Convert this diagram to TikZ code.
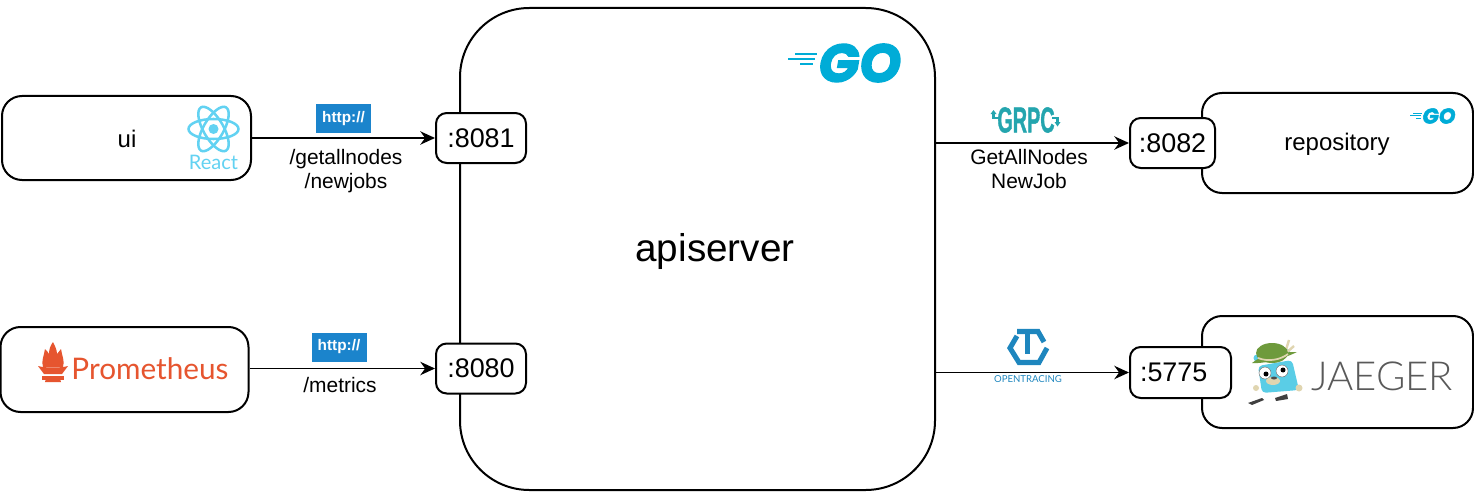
\documentclass[tikz,border=0pt]{standalone}
\usepackage{fontspec}
\setmainfont{Liberation Sans}
\newfontfamily\logofont{Lato Light}
\newfontfamily\logoregular{Lato}
\newfontfamily\gofont[BoldItalicFeatures={FakeBold=2.5}]{Poppins}
\newfontfamily\grpcfont[BoldFeatures={FakeBold=1.5}]{Liberation Sans}
\usetikzlibrary{arrows.meta}

\definecolor{httpblue}{HTML}{1B84CC}
\definecolor{reactblue}{HTML}{62D2F2}
\definecolor{goblue}{HTML}{00ACD7}
\definecolor{grpcteal}{HTML}{24A5AE}
\definecolor{promred}{HTML}{E6552F}
\definecolor{tracingblue}{HTML}{1E86BE}
\definecolor{gopherblue}{HTML}{5ACDE6}
\definecolor{hatgreen}{HTML}{6E9A3C}
\definecolor{hattan}{HTML}{E0D5B0}

\def\px{.75pt}
\tikzset{
    svcbox/.style={draw, line width=1.5pt, rounded corners=15pt, fill=white, inner sep=0pt},
    portbox/.style={draw, line width=1.5pt, rounded corners=8pt, fill=white, inner sep=0pt, font=\fontsize{20.2}{21}\selectfont},
    lbl/.style={inner sep=0pt, align=center, font=\fontsize{15.7}{17.8}\selectfont},
    httpbadge/.style={fill=httpblue, text=white, inner sep=0pt, minimum width=55*\px, minimum height=29*\px, font=\fontsize{11.5}{12}\selectfont\bfseries},
    link/.style={-{Stealth[length=11pt,width=10pt]}, line width=1.4pt},
}

\begin{document}
\begin{tikzpicture}[x=.75pt, y=-.75pt]
    \useasboundingbox (0,0) rectangle (1474,492);

    \node[svcbox, rounded corners=52pt, minimum width=475*\px, minimum height=482*\px] (api) at (697.5,249) {};
    \node[inner sep=0pt, font=\fontsize{29}{32}\selectfont] (apilabel) at (715,252) {apiserver};

    \node[svcbox, minimum width=249*\px, minimum height=84*\px] (ui) at (126.5,138) {};
    \node[lbl, font=\fontsize{18}{20}\selectfont] (uilabel) at (127,139) {ui};
    \node[svcbox, minimum width=248*\px, minimum height=85*\px] (prom) at (124.5,369.5) {};
    \node[svcbox, minimum width=271*\px, minimum height=100*\px] (repo) at (1337.5,143) {};
    \node[lbl, font=\fontsize{18}{20}\selectfont] (repolabel) at (1337,144) {repository};
    \node[svcbox, minimum width=271*\px, minimum height=112*\px] (jaeger) at (1337.5,372) {};

    \node[portbox, minimum width=90*\px, minimum height=50*\px] (p8081) at (481,138) {:8081};
    \node[portbox, minimum width=90*\px, minimum height=50*\px] (p8080) at (481,368.5) {:8080};
    \node[portbox, minimum width=85*\px, minimum height=50*\px] (p8082) at (1172.5,143) {:8082};
    \node[portbox, minimum width=101*\px, text width=81*\px, align=left, minimum height=51*\px] (p5775) at (1180.5,372.5) {:5775};

    %Connectors
    \draw[link] (ui.east |- p8081.west) -- (p8081.west);
    \draw[link] (prom.east |- p8080.west) -- (p8080.west);
    \draw[link] (api.east |- p8082.west) -- (p8082.west);
    \draw[link] (api.east |- p5775.west) -- (p5775.west);

    \node[httpbadge] (http1) at (343.5,118.5) {http://};
    \node[httpbadge] (http2) at (339,347) {http://};
    \node[lbl] (ui1) at (346,171) {/getallnodes\\/newjobs};
    \node[lbl] (prom1) at (340,385) {/metrics};
    \node[lbl] (repo1) at (1029,169) {GetAllNodes\\NewJob};

    %React
    \foreach \ang in {0,60,120}
        \draw[reactblue, line width=1.9pt] (213.5,129) ellipse[x radius=25, y radius=10, rotate=\ang];
    \fill[reactblue] (213.5,129) circle[radius=5];
    \node[text=reactblue, inner sep=0pt, font=\logoregular\fontsize{15}{16}\selectfont] (reactlabel) at (213.5,162) {React};

    %Go
    \draw[goblue, line width=1.6pt] (795,54) -- (817,54) (788,59) -- (815,59) (800,64) -- (813,64);
    \node[text=goblue, inner sep=0pt, font=\gofont\fontsize{40}{40}\selectfont\bfseries\itshape] (golabel) at (860,63) {GO};
    \draw[goblue, line width=.7pt] (1413,113) -- (1422,113) (1410,115.5) -- (1421,115.5) (1416,118) -- (1421,118);
    \node[text=goblue, inner sep=0pt, font=\gofont\fontsize{16}{16}\selectfont\bfseries\itshape] (golabelsmall) at (1439,116) {GO};

    %Prometheus
    \fill[promred] (43,367) .. controls (41,361) and (44,356) .. (45,349) .. controls (47,351) and (48,352) .. (49,354) .. controls (49,350) and (50,346) .. (53,342) .. controls (55,346) and (57,350) .. (57,354) .. controls (58,352) and (60,351) .. (61,349) .. controls (62,356) and (65,361) .. (63,367) -- cycle;
    \fill[promred] (38,366) .. controls (44,368) and (62,368) .. (68,366) -- (62,374) -- (44,374) -- cycle;
    \fill[promred] (42,376) rectangle (64,380);
    \fill[promred] (45,382) -- (61,382) arc[start angle=0, end angle=180, radius=8, y radius=-5.5];
    \node[text=promred, inner sep=0pt, font=\logoregular\fontsize{22.3}{24}\selectfont] (promlabel) at (150,369) {Prometheus};

    %gRPC
    \node[text=grpcteal, inner sep=0pt, xscale=.55, font=\grpcfont\bfseries\fontsize{27}{28}\selectfont] (grpclabel) at (1026,120) {GRPC};
    \draw[grpcteal, line width=1.9pt] (999,118) -- (993.5,118) -- (993.5,113);
    \draw[grpcteal, line width=1.9pt] (1052,118) -- (1057.5,118) -- (1057.5,123);
    \fill[grpcteal] (990.5,114) -- (993.5,110) -- (996.5,114) -- cycle;
    \fill[grpcteal] (1054.5,122) -- (1057.5,126.5) -- (1060.5,122) -- cycle;

    %Opentracing
    \draw[tracingblue, line width=3.8pt, line join=miter] (1017,331.5) -- (1038,331.5) -- (1044,342);
    \draw[tracingblue, line width=3.8pt] (1027.5,331) -- (1027.5,354);
    \draw[tracingblue, line width=3.8pt, line join=miter] (1017,336) -- (1010,348) -- (1019,362.5) -- (1039,362.5) -- (1047,348);
    \node[text=tracingblue, inner sep=0pt, font=\logoregular\fontsize{7.2}{8}\selectfont] (tracinglabel) at (1028,379) {OPENTRACING};

    %Jaeger
    \fill[gopherblue, rounded corners=3pt] (1258,366) -- (1292,360) -- (1299,390) -- (1262,393) -- cycle;
    \fill[gopherblue] (1257,358) circle[radius=3.5];
    \fill[gopherblue] (1287,352) circle[radius=3];
    \fill[hattan] (1256,388) circle[radius=3];
    \fill[hattan] (1299,388) circle[radius=3.5];
    \draw[hattan, line width=1.8pt] (1285,353) -- (1289,340) (1286,353) -- (1294,346);
    \fill[hatgreen] (1272,353) ellipse[x radius=16, y radius=10];
    \fill[hatgreen] (1252,363) .. controls (1262,354) and (1284,352) .. (1297,352) .. controls (1285,358) and (1265,364) .. (1252,363) -- cycle;
    \draw[hattan, line width=1.3pt] (1258,358) .. controls (1268,362) and (1280,360) .. (1288,354);
    \fill[white, draw=black!60, line width=.3pt] (1265,373) circle[radius=6];
    \fill[white, draw=black!60, line width=.3pt] (1282,371) circle[radius=6];
    \fill[black] (1266,374) circle[radius=2.5];
    \fill[black] (1283,370) circle[radius=2.5];
    \fill[hattan] (1273,381) ellipse[x radius=7, y radius=4];
    \fill[black!70] (1274,378) ellipse[x radius=3, y radius=1.5];
    \fill[black!75] (1248,403) -- (1262,398) -- (1264,400) -- (1252,405) -- cycle;
    \fill[black!75] (1275,398) -- (1287,394) -- (1288,399) -- (1276,401) -- cycle;
    \node[text=black!65, inner sep=0pt, font=\logofont\fontsize{30}{32}\selectfont] (jaegerlabel) at (1382,376) {JAEGER};
\end{tikzpicture}
\end{document}
